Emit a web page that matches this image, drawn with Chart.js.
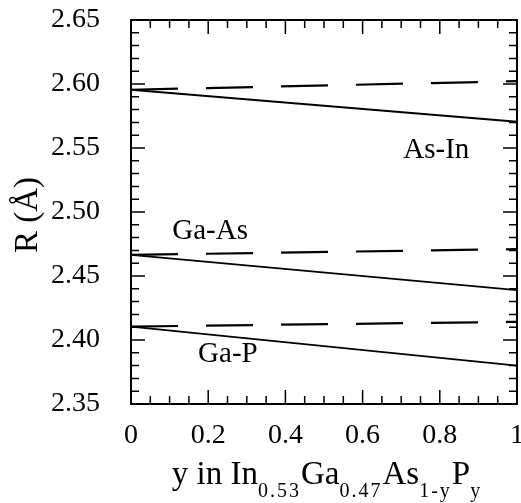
<!DOCTYPE html>
<html>
<head>
<meta charset="utf-8">
<script src="https://cdn.jsdelivr.net/npm/chart.js@4/dist/chart.umd.min.js"></script>
<style>
  html, body { margin: 0; padding: 0; background: #fff; }
  #wrap { width: 521px; height: 503px; }
</style>
</head>
<body>
<div id="wrap"><canvas id="bonds"></canvas></div>
<script>
// Data
const xEnds = [0, 1];
const asInSolid = [2.5955, 2.5705];
const asInDashed = [2.5955, 2.6022];
const gaAsSolid = [2.4665, 2.4390];
const gaAsDashed = [2.4665, 2.4710];
const gaPSolid = [2.4105, 2.3800];
const gaPDashed = [2.4105, 2.4142];
const xTicks = [0, 0.2, 0.4, 0.6, 0.8, 1];
const yTicks = [2.35, 2.40, 2.45, 2.50, 2.55, 2.60, 2.65];
const bondNames = ['As-In', 'Ga-As', 'Ga-P'];
const bondNameX = [0.791, 0.205, 0.251];
const bondNameY = [2.5422, 2.4789, 2.3828];

const serif = '"Liberation Serif", "Times New Roman", serif';

function pts(ys) {
    return xEnds.map((x, i) => ({ x: x, y: ys[i] }));
}

function line(ys, dashed) {
    return {
        data: pts(ys),
        borderColor: '#000',
        borderWidth: dashed ? 2.2 : 1.8,
        borderDash: dashed ? [47, 28] : [],
        pointRadius: 0,
        fill: false,
        tension: 0
    };
}

// frame, inward ticks on all sides, labels and axis titles
const decor = {
    id: 'decor',
    afterDatasetsDraw(chart) {
        const { ctx, chartArea: a, scales: { x, y } } = chart;
        ctx.save();
        ctx.strokeStyle = '#000';
        ctx.lineWidth = 1.5;
        ctx.beginPath();
        for (let i = 0; i <= 20; i++) {
            const v = i * 0.05;
            const px = x.getPixelForValue(v);
            const len = i % 4 === 0 ? 14 : 8;
            ctx.moveTo(px, a.bottom); ctx.lineTo(px, a.bottom - len);
            ctx.moveTo(px, a.top); ctx.lineTo(px, a.top + len);
        }
        for (let i = 0; i <= 30; i++) {
            const v = 2.35 + i * 0.01;
            const py = y.getPixelForValue(v);
            const len = i % 5 === 0 ? 14 : 8;
            ctx.moveTo(a.left, py); ctx.lineTo(a.left + len, py);
            ctx.moveTo(a.right, py); ctx.lineTo(a.right - len, py);
        }
        ctx.stroke();
        ctx.lineWidth = 2;
        ctx.strokeRect(a.left, a.top, a.right - a.left, a.bottom - a.top);

        // bond names
        ctx.fillStyle = '#000';
        ctx.font = '29px ' + serif;
        ctx.textAlign = 'center';
        ctx.textBaseline = 'alphabetic';
        bondNames.forEach((n, i) => {
            ctx.fillText(n, x.getPixelForValue(bondNameX[i]), y.getPixelForValue(bondNameY[i]));
        });

        // y title
        ctx.save();
        ctx.translate(28, (a.top + a.bottom) / 2 + 3);
        ctx.rotate(-Math.PI / 2);
        ctx.font = '33px ' + serif;
        ctx.textBaseline = 'middle';
        ctx.fillText('R (Å)', 0, 0);
        ctx.restore();

        // x title with subscripts
        const parts = [['y in In', 0], ['0.53', 1], ['Ga', 0], ['0.47', 1], ['As', 0], ['1-y', 1], ['P', 0], ['y', 1]];
        const mainFont = '33px ' + serif;
        const subFont = '20px ' + serif;
        let total = 0;
        const widths = parts.map(p => {
            ctx.font = p[1] ? subFont : mainFont;
            ctx.letterSpacing = p[1] ? '2px' : '0px';
            const w = ctx.measureText(p[0]).width;
            total += w;
            return w;
        });
        let cx = (a.left + a.right) / 2 + 3 - total / 2;
        const base = a.bottom + 80;
        ctx.textAlign = 'left';
        parts.forEach((p, i) => {
            ctx.font = p[1] ? subFont : mainFont;
            ctx.letterSpacing = p[1] ? '2px' : '0px';
            ctx.fillText(p[0], cx, p[1] ? base + 13 : base);
            cx += widths[i];
        });
        ctx.restore();
    }
};

new Chart(document.getElementById('bonds'), {
    type: 'line',
    data: {
        datasets: [
            line(asInSolid, false),
            line(asInDashed, true),
            line(gaAsSolid, false),
            line(gaAsDashed, true),
            line(gaPSolid, false),
            line(gaPDashed, true)
        ]
    },
    options: {
        responsive: true,
        maintainAspectRatio: false,
        animation: false,
        events: [],
        layout: { padding: { top: 20, right: 4, left: 0, bottom: 0 } },
        plugins: {
            legend: { display: false },
            tooltip: { enabled: false }
        },
        scales: {
            x: {
                type: 'linear',
                min: 0,
                max: 1,
                grid: { display: false, drawTicks: false },
                border: { display: false },
                afterBuildTicks: s => { s.ticks = xTicks.map(v => ({ value: v })); },
                afterFit: s => { s.height = 99; s.paddingLeft = 0; s.paddingRight = 0; },
                ticks: {
                    padding: 15,
                    color: '#000',
                    font: { family: serif, size: 28 },
                    maxRotation: 0,
                    callback: v => String(v)
                }
            },
            y: {
                type: 'linear',
                min: 2.35,
                max: 2.65,
                grid: { display: false, drawTicks: false },
                border: { display: false },
                afterBuildTicks: s => { s.ticks = yTicks.map(v => ({ value: v })); },
                afterFit: s => { s.width = 131; s.paddingTop = 0; s.paddingBottom = 0; },
                ticks: {
                    padding: 31,
                    color: '#000',
                    font: { family: serif, size: 28 },
                    callback: v => Number(v).toFixed(2)
                }
            }
        }
    },
    plugins: [decor]
});
</script>
</body>
</html>
